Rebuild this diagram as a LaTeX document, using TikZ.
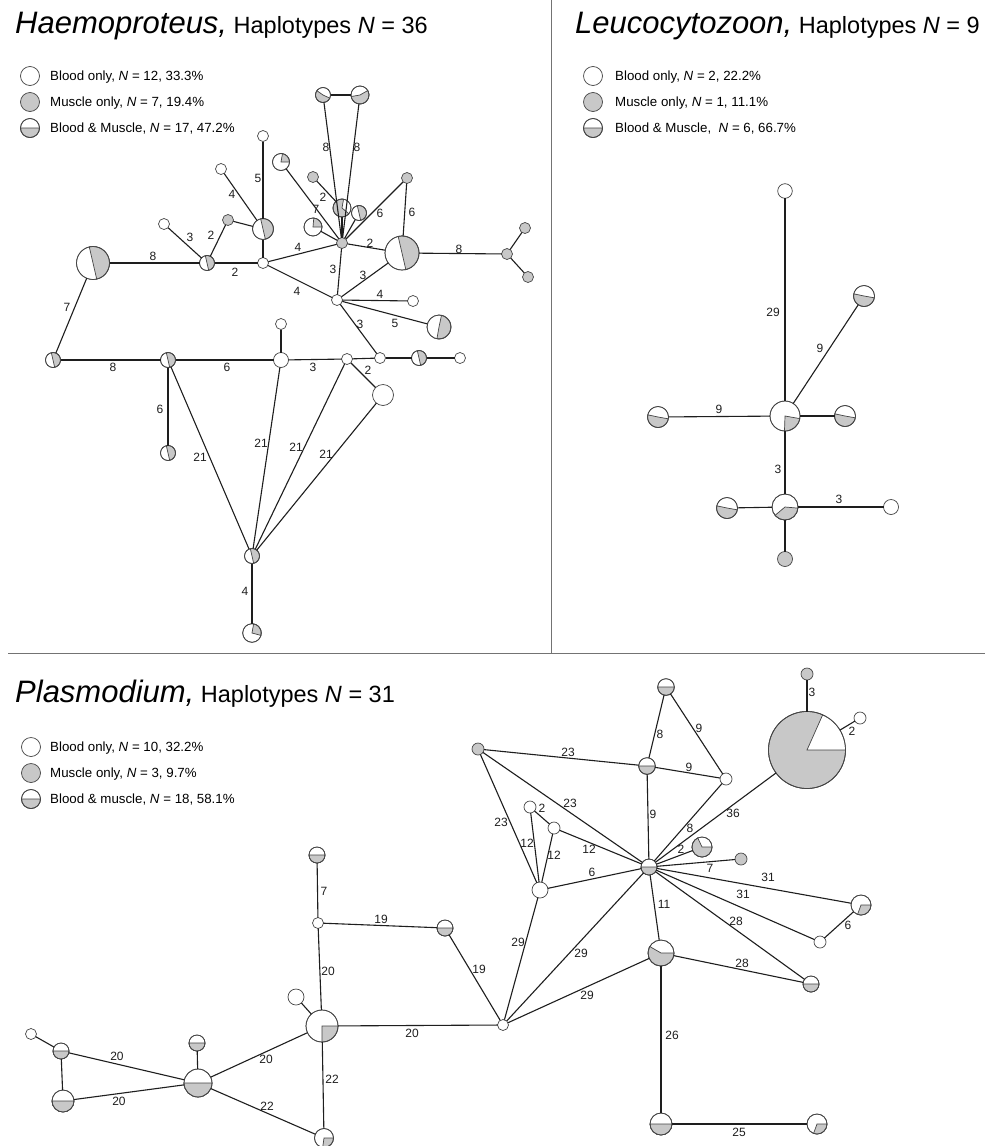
\documentclass[tikz,border=0pt]{standalone}
\usepackage{fontspec}
\setmainfont{Liberation Sans}
\definecolor{gfill}{HTML}{C8C8C8}
\definecolor{nline}{HTML}{454545}
\definecolor{eline}{HTML}{1E1E1E}
\tikzset{
  hapn/.style={circle, inner sep=0pt, outer sep=0pt, draw=nline, line width=0.7pt, fill=white},
  sect/.style={fill=gfill, draw=nline, line width=0.7pt},
  edge/.style={draw=eline, line width=1.1pt},
  lab/.style={font=\fontsize{12}{13}\selectfont, inner sep=0pt, text=eline},
  leg/.style={font=\fontsize{13.3}{15}\selectfont, inner sep=0pt, anchor=base west, text=black},
  ttl/.style={inner sep=0pt, anchor=base west, text=black},
  panel/.style={draw=black!55, line width=0.9pt},
}
\newcommand{\hw}[4]{\node[hapn, minimum size={2*#4pt}] (#1) at (#2,-#3) {};}
\newcommand{\hg}[4]{\node[hapn, fill=gfill, minimum size={2*#4pt}] (#1) at (#2,-#3) {};}
\newcommand{\hpie}[6]{\node[hapn, minimum size={2*#4pt}] (#1) at (#2,-#3) {};
  \filldraw[sect] (#1.center) -- ++(#5:#4) arc[start angle=#5, end angle=#6, radius=#4] -- cycle;
  \draw[draw=nline, line width=0.7pt] (#1.center) circle[radius=#4];}
\newcommand{\lb}[4]{\node[lab] (#1) at (#2,-#3) {#4};}
\newcommand{\bigT}{\fontsize{31}{35}\selectfont\itshape}
\newcommand{\smT}{\fontsize{23.5}{27}\selectfont\upshape}
\begin{document}
\begin{tikzpicture}[x=1pt,y=1pt]
\useasboundingbox (0,0) rectangle (988,-1146);
\fill[white] (0,0) rectangle (988,-1146);
% panel frames
\coordinate (v1) at (551.5,0);
\coordinate (v2) at (551.5,-653.5);
\coordinate (w1) at (8,-653.5);
\coordinate (w2) at (985,-653.5);
\draw[panel] (v1) -- (v2);
\draw[panel] (w1) -- (w2);

% ===================== Haemoproteus =====================
\node[ttl] (t1) at (15,-33) {\bigT Haemoproteus,\smT\ Haplotypes \textit{N} = 36};
\hw{hk1}{30}{76}{9.5}
\hg{hk2}{30}{102}{9.5}
\hpie{hk3}{30}{128}{9.5}{180}{360}
\node[leg] (hg1) at (50,-80.5) {Blood only, \textit{N} = 12, 33.3\%};
\node[leg] (hg2) at (50,-106.5) {Muscle only, \textit{N} = 7, 19.4\%};
\node[leg] (hg3) at (50,-132.5) {Blood \& Muscle, \textit{N} = 17, 47.2\%};

\hpie{hA1}{93}{263}{16.5}{-77}{103}
\hpie{hB}{207}{263}{7.5}{-77}{103}
\hw{hC}{263}{263}{5.5}
\hw{hD}{164}{224}{5.5}
\hg{hE}{228}{220}{5.5}
\hpie{hF}{263}{229}{10.5}{-77}{103}
\hw{hG}{221}{169}{5.5}
\hw{hH}{263}{136}{5.5}
\hpie{hI}{281}{162}{8.5}{0}{80}
\hg{hJ}{313}{177}{5.5}
\hpie{hK}{313}{227}{9}{0}{85}
\hpie{hL1}{323}{95}{7.5}{145}{335}
\hpie{hL2}{360}{95}{9}{190}{390}
\hg{hM}{342}{243}{5.5}
\hpie{hN}{342}{208}{9}{80}{320}
\hpie{hO}{359}{213}{7.5}{-77}{103}
\hg{hP}{407}{178}{5.5}
\hpie{hQ}{402}{253}{17}{-77}{103}
\hg{hR}{507}{254}{5.5}
\hg{hR1}{525}{228}{5.5}
\hg{hR2}{528}{277}{5.5}
\hw{hS}{337}{300}{5.5}
\hw{hT}{413}{301}{5.5}
\hpie{hU}{439}{327}{12}{-100}{78}
\hw{hV}{380}{358}{5.5}
\hpie{hW}{419}{358}{7.5}{-77}{103}
\hw{hX}{460}{358}{5.5}
\hw{hY}{347}{359}{5.5}
\hw{hZ}{383}{395}{10.5}
\hw{hAA}{281}{360}{7.5}
\hw{hAB}{281}{324}{5.5}
\hpie{hAC}{53}{360}{7.5}{-77}{103}
\hpie{hAD}{168}{360}{7.5}{-77}{103}
\hpie{hAE}{168}{453}{7.5}{-77}{103}
\hpie{hAF}{252}{556}{7.5}{-77}{103}
\hpie{hAG}{252}{633}{9.3}{-15}{80}

\foreach \a/\b in {hA1/hB, hB/hD, hB/hE, hB/hC, hE/hF, hF/hC, hG/hF, hH/hF, hC/hM, hC/hS,
  hI/hM, hJ/hN, hN/hM, hK/hM, hO/hM, hL1/hM, hL2/hM, hL1/hL2, hM/hP, hP/hQ, hM/hQ, hQ/hR,
  hR/hR1, hR/hR2, hM/hS, hS/hQ, hS/hT, hS/hU, hS/hV, hV/hW, hW/hX, hY/hV, hY/hZ, hAA/hY,
  hAA/hAB, hAD/hAA, hAC/hAD, hA1/hAC, hAD/hAE, hAD/hAF, hAA/hAF, hY/hAF, hZ/hAF, hAF/hAG}
  \draw[edge] (\a) -- (\b);

\lb{ha1}{153}{256}{8}
\lb{ha2}{190}{237}{3}
\lb{ha3}{211}{235}{2}
\lb{ha4}{235}{272}{2}
\lb{ha5}{232}{194}{4}
\lb{ha6}{258}{178}{5}
\lb{ha7}{298}{247}{4}
\lb{ha8}{297}{291}{4}
\lb{ha9}{316}{209}{7}
\lb{ha10}{323}{197}{2}
\lb{ha11}{326}{147}{8}
\lb{ha12}{357}{147}{8}
\lb{ha13}{380}{213}{6}
\lb{ha14}{412}{212}{6}
\lb{ha15}{370}{243}{2}
\lb{ha16}{459}{249}{8}
\lb{ha17}{333}{269}{3}
\lb{ha18}{363}{275}{3}
\lb{ha19}{380}{294}{4}
\lb{ha20}{395}{323}{5}
\lb{ha21}{360}{324}{3}
\lb{ha22}{313}{367}{3}
\lb{ha23}{368}{370}{2}
\lb{ha24}{67}{307}{7}
\lb{ha25}{113}{367}{8}
\lb{ha26}{227}{367}{6}
\lb{ha27}{160}{409}{6}
\lb{ha28}{200}{457}{21}
\lb{ha29}{261}{443}{21}
\lb{ha30}{296}{447}{21}
\lb{ha31}{326}{454}{21}
\lb{ha32}{245}{591}{4}

% ===================== Leucocytozoon =====================
\node[ttl] (t2) at (575,-33) {\bigT Leucocytozoon,\smT\ Haplotypes \textit{N} = 9};
\hw{lk1}{593}{76}{9.5}
\hg{lk2}{593}{102}{9.5}
\hpie{lk3}{593}{128}{9.5}{180}{360}
\node[leg] (lg1) at (615,-80.5) {Blood only, \textit{N} = 2, 22.2\%};
\node[leg] (lg2) at (615,-106.5) {Muscle only, \textit{N} = 1, 11.1\%};
\node[leg] (lg3) at (615,-132.5) {Blood \& Muscle,\ \ \textit{N} = 6, 66.7\%};

\hw{lT}{785}{191}{7.3}
\hpie{lC}{785}{416}{15}{268}{350}
\hpie{lUR}{864}{296}{10.5}{168}{350}
\hpie{lL}{658}{417}{10.5}{168}{350}
\hpie{lR}{845}{416}{10.5}{168}{350}
\hpie{lB}{785}{507}{13}{220}{355}
\hpie{lBL}{727}{508}{10.5}{168}{350}
\hw{lBR}{891}{507}{7.5}
\hg{lBB}{785}{559}{7.5}
\foreach \a/\b in {lT/lC, lUR/lC, lL/lC, lC/lR, lC/lB, lBL/lB, lB/lBR, lB/lBB}
  \draw[edge] (\a) -- (\b);
\lb{la1}{773}{312}{29}
\lb{la2}{820}{348}{9}
\lb{la3}{719}{409}{9}
\lb{la4}{778}{469}{3}
\lb{la5}{839}{499}{3}

% ===================== Plasmodium =====================
\node[ttl] (t3) at (15,-702) {\bigT Plasmodium,\smT\ Haplotypes \textit{N} = 31};
\hw{pk1}{31}{747}{9.5}
\hg{pk2}{31}{773}{9.5}
\hpie{pk3}{31}{799}{9.5}{180}{360}
\node[leg] (pg1) at (50,-751.5) {Blood only, \textit{N} = 10, 32.2\%};
\node[leg] (pg2) at (50,-777.5) {Muscle only, \textit{N} = 3, 9.7\%};
\node[leg] (pg3) at (50,-803.5) {Blood \& muscle, \textit{N} = 18, 58.1\%};

\hpie{pP1}{317}{855}{8}{180}{360}
\hw{pP2}{318}{923}{5.5}
\hpie{pP3}{445}{928}{8}{180}{360}
\hpie{pP4}{322}{1026}{16}{270}{360}
\hw{pP5}{296}{997}{8}
\hw{pP6}{503}{1025}{5.5}
\hpie{pP7}{198}{1083}{14}{180}{360}
\hpie{pP8}{197}{1043}{8}{180}{360}
\hpie{pP9}{324}{1138}{9.5}{262}{360}
\hpie{pP10}{61}{1051}{8}{180}{360}
\hw{pP11}{31}{1034}{5.5}
\hpie{pP12}{63}{1101}{11}{180}{360}
\hpie{pA}{666}{687}{8.3}{180}{360}
\hpie{pB}{647}{766}{8.3}{180}{360}
\hw{pC}{726}{779}{6}
\hg{pD}{478}{749}{6}
\hw{pE}{530}{807}{6}
\hw{pF}{554}{828}{6}
\hw{pG}{540}{890}{8}
\hpie{pH}{649}{867}{8}{180}{360}
\hpie{pI}{702}{847}{10}{115}{360}
\hg{pJ}{741}{859}{6}
\hpie{pBIG}{807}{750}{38.5}{66}{360}
\hg{pBT}{807}{674}{6}
\hw{pBR}{860}{718}{6}
\hpie{pK}{861}{905}{10}{250}{360}
\hw{pL}{820}{942}{6}
\hpie{pM}{811}{984}{8}{180}{360}
\hpie{pN}{661}{953}{13}{150}{360}
\hpie{pO}{661}{1124}{11}{180}{360}
\hpie{pPP}{817}{1124}{10}{250}{360}

\foreach \a/\b in {pP1/pP2, pP2/pP3, pP2/pP4, pP5/pP4, pP4/pP6, pP3/pP6, pP7/pP4, pP8/pP7,
  pP4/pP9, pP7/pP9, pP11/pP10, pP10/pP12, pP10/pP7, pP12/pP7, pG/pP6, pH/pP6, pN/pP6,
  pA/pB, pA/pC, pB/pC, pD/pB, pD/pH, pD/pG, pB/pH, pC/pH, pE/pF, pF/pH, pE/pG, pF/pG,
  pG/pH, pH/pBIG, pBIG/pBT, pBIG/pBR, pH/pI, pH/pJ, pH/pK, pH/pL, pK/pL, pH/pM, pH/pN,
  pN/pM, pN/pO, pO/pPP}
  \draw[edge] (\a) -- (\b);

\lb{pa1}{324}{891}{7}
\lb{pa2}{381}{919}{19}
\lb{pa3}{328}{971}{20}
\lb{pa4}{412}{1033}{20}
\lb{pa5}{479}{969}{19}
\lb{pa6}{266}{1059}{20}
\lb{pa7}{332}{1079}{22}
\lb{pa8}{267}{1106}{22}
\lb{pa9}{117}{1056}{20}
\lb{pa10}{119}{1101}{20}
\lb{pa11}{518}{942}{29}
\lb{pa12}{660}{734}{8}
\lb{pa13}{699}{728}{9}
\lb{pa14}{689}{767}{9}
\lb{pa15}{568}{752}{23}
\lb{pa16}{570}{803}{23}
\lb{pa17}{501}{822}{23}
\lb{pa18}{653}{814}{9}
\lb{pa19}{690}{828}{8}
\lb{pa20}{542}{808}{2}
\lb{pa21}{589}{849}{12}
\lb{pa22}{527}{843}{12}
\lb{pa23}{554}{855}{12}
\lb{pa24}{592}{872}{6}
\lb{pa25}{733}{813}{36}
\lb{pa26}{812}{692}{3}
\lb{pa27}{852}{731}{2}
\lb{pa28}{681}{849}{2}
\lb{pa29}{710}{868}{7}
\lb{pa30}{768}{877}{31}
\lb{pa31}{743}{894}{31}
\lb{pa32}{848}{925}{6}
\lb{pa33}{736}{921}{28}
\lb{pa34}{664}{904}{11}
\lb{pa35}{742}{963}{28}
\lb{pa36}{587}{995}{29}
\lb{pa37}{581}{953}{29}
\lb{pa38}{672}{1035}{26}
\lb{pa39}{739}{1132}{25}
\end{tikzpicture}
\end{document}
